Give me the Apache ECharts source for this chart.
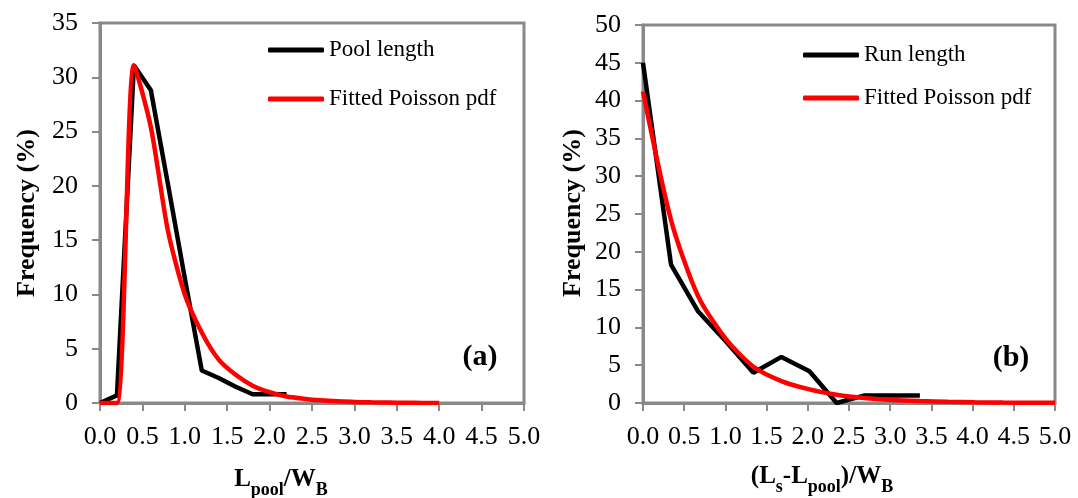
<!DOCTYPE html>
<html><head><meta charset="utf-8">
<script src="https://cdn.jsdelivr.net/npm/echarts@6/dist/echarts.min.js"></script>
<style>html,body{margin:0;padding:0;background:#fff}#c{width:1078px;height:498px}</style>
</head><body><div id="c"></div>
<script>
// Panel (a): pool length
const poolX = [0, 0.2, 0.4, 0.6, 0.8, 1.0, 1.2, 1.4, 1.6, 1.8, 2.0, 2.2];
const poolFreq = [0, 0.7, 31.1, 28.8, 20.2, 11.5, 3.0, 2.3, 1.5, 0.8, 0.8, 0.8];
const poolFitX = [0, 0.2, 0.4, 0.6, 0.8, 1.0, 1.2, 1.4, 1.6, 1.8, 2.0, 2.2, 2.4, 2.6, 2.8, 3.0, 3.2, 3.4, 3.6, 3.8, 4.0];
const poolFit = [0, 0, 31.1, 25.4, 15.9, 10.0, 6.5, 4.0, 2.6, 1.6, 1.0, 0.6, 0.4, 0.25, 0.15, 0.1, 0.06, 0.04, 0.02, 0.01, 0.01];
// Panel (b): run length
const runX = [0, 0.34, 0.67, 1.01, 1.34, 1.68, 2.02, 2.35, 2.69, 3.02, 3.36];
const runFreq = [45.0, 18.3, 12.1, 8.1, 4.0, 6.1, 4.2, 0, 1.0, 1.0, 1.0];
const runFitX = [0, 0.34, 0.67, 1.01, 1.34, 1.68, 2.02, 2.35, 2.69, 3.02, 3.36, 3.7, 4.03, 4.37, 4.7, 5.0];
const runFit = [41.2, 24.2, 14.1, 8.4, 4.8, 2.9, 1.8, 1.1, 0.65, 0.4, 0.25, 0.15, 0.09, 0.05, 0.03, 0.02];
// Ticks
const xTicks = {min: 0, max: 5, interval: 0.5};
const yTicksA = {min: 0, max: 35, interval: 5};
const yTicksB = {min: 0, max: 50, interval: 5};
const labelsA = ['Pool length', 'Fitted Poisson pdf'];
const labelsB = ['Run length', 'Fitted Poisson pdf '];

const FONT = '"Liberation Serif", "Times New Roman", serif';
const GRAY = '#898989';
const zip = (xs, ys) => xs.map((x, i) => [x, ys[i]]);

function xAxis(gi) {
  return {
    type: 'value', gridIndex: gi, min: xTicks.min, max: xTicks.max, interval: xTicks.interval,
    axisLine: {show: true, lineStyle: {color: GRAY, width: 3}},
    axisTick: {show: true, inside: false, length: 8, lineStyle: {color: GRAY, width: 2}},
    splitLine: {show: false},
    axisLabel: {color: '#000', fontFamily: FONT, fontSize: 26, margin: 21, formatter: v => v.toFixed(1)}
  };
}
function yAxis(gi, t) {
  return {
    type: 'value', gridIndex: gi, min: t.min, max: t.max, interval: t.interval,
    axisLine: {show: true, lineStyle: {color: GRAY, width: 3}},
    axisTick: {show: true, inside: false, length: 8, lineStyle: {color: GRAY, width: 2}},
    splitLine: {show: false},
    axisLabel: {color: '#000', fontFamily: FONT, fontSize: 26, margin: 22}
  };
}
function legend(data, colors, left, top, gap) {
  return {
    data: data.map((n, i) => ({name: n, icon: 'roundRect', itemStyle: {color: colors[i]}})),
    left: left, top: top, orient: 'vertical', itemGap: gap, padding: 0,
    itemWidth: 56, itemHeight: 5,
    textStyle: {fontFamily: FONT, fontSize: 23, color: '#000', lineHeight: 24},
    selectedMode: false
  };
}
function line(name, data, color, xi, smooth) {
  return {
    name: name, type: 'line', xAxisIndex: xi, yAxisIndex: xi, data: data,
    symbol: 'none', showSymbol: false, smooth: smooth, color: color,
    lineStyle: {color: color, width: 4.5}, z: color === '#000000' ? 3 : 4
  };
}
const sub = {
  m: {fontFamily: FONT, fontSize: 25, fontWeight: 'bold', color: '#000', lineHeight: 30},
  s: {fontFamily: FONT, fontSize: 18, fontWeight: 'bold', color: '#000', lineHeight: 30, padding: [20, 0, 0, 0]}
};

const chart = echarts.init(document.getElementById('c'), null, {renderer: 'canvas'});
chart.setOption({
  animation: false,
  backgroundColor: '#fff',
  grid: [
    {left: 100, top: 23, width: 424, height: 380, show: true, borderColor: GRAY, borderWidth: 3, containLabel: false},
    {left: 643, top: 25, width: 412, height: 378, show: true, borderColor: GRAY, borderWidth: 3, containLabel: false}
  ],
  xAxis: [xAxis(0), xAxis(1)],
  yAxis: [yAxis(0, yTicksA), yAxis(1, yTicksB)],
  legend: [
    legend(labelsA, ['#000000', '#ff0000'], 268, 38, 25),
    legend(labelsB, ['#000000', '#ff0000'], 803, 43, 19)
  ],
  series: [
    line(labelsA[0], zip(poolX, poolFreq), '#000000', 0, false),
    line(labelsA[1], zip(poolFitX, poolFit), '#ff0000', 0, 0.25),
    line(labelsB[0], zip(runX, runFreq), '#000000', 1, false),
    line(labelsB[1], zip(runFitX, runFit), '#ff0000', 1, 0.25)
  ],
  graphic: [
    {type: 'text', x: 27, y: 213, rotation: Math.PI / 2,
     style: {text: 'Frequency (%)', fontFamily: FONT, fontSize: 26, fontWeight: 'bold', fill: '#000', align: 'center', verticalAlign: 'middle'}},
    {type: 'text', x: 573, y: 213, rotation: Math.PI / 2,
     style: {text: 'Frequency (%)', fontFamily: FONT, fontSize: 26, fontWeight: 'bold', fill: '#000', align: 'center', verticalAlign: 'middle'}},
    {type: 'text', x: 281, y: 480,
     style: {text: '{m|L}{s|pool}{m|/W}{s|B}', rich: sub, align: 'center', verticalAlign: 'middle'}},
    {type: 'text', x: 822, y: 477,
     style: {text: '{m|(L}{s|s}{m|-L}{s|pool}{m|)/W}{s|B}', rich: sub, align: 'center', verticalAlign: 'middle'}},
    {type: 'text', x: 480, y: 357,
     style: {text: '(a)', fontFamily: FONT, fontSize: 30, fontWeight: 'bold', fill: '#000', align: 'center', verticalAlign: 'middle'}},
    {type: 'text', x: 1011, y: 358,
     style: {text: '(b)', fontFamily: FONT, fontSize: 30, fontWeight: 'bold', fill: '#000', align: 'center', verticalAlign: 'middle'}}
  ]
});
</script></body></html>
